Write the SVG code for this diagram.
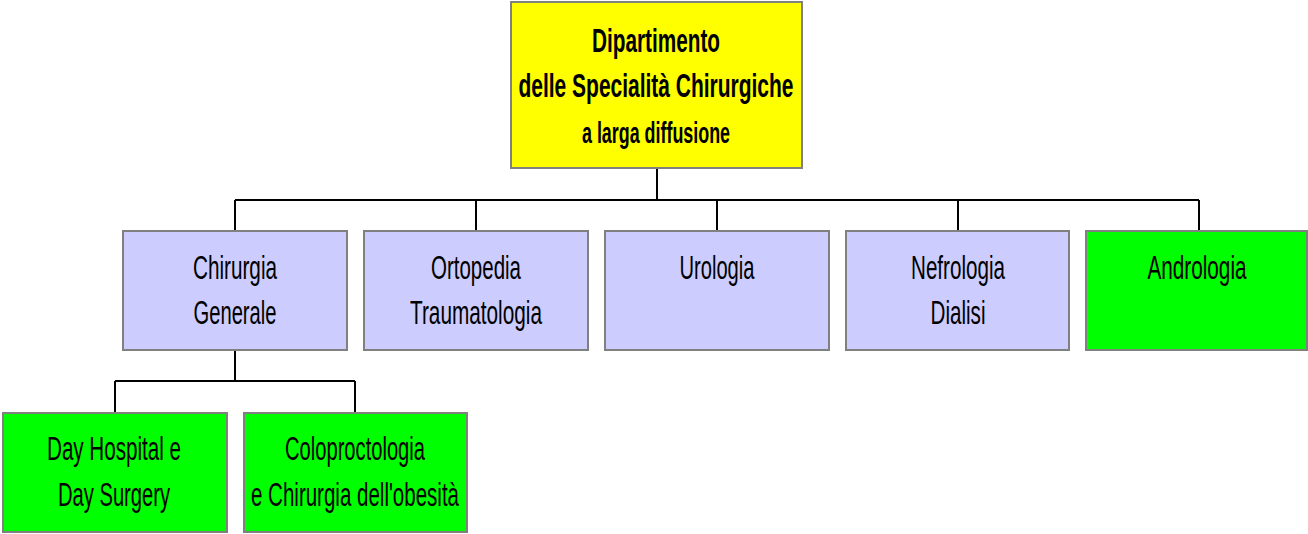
<svg xmlns="http://www.w3.org/2000/svg" width="1308" height="534" viewBox="0 0 1308 534">
<style>
.box{stroke:#808080;stroke-width:2}
.y{fill:#FFFF00}
.b{fill:#CCCCFF}
.g{fill:#00FF00}
text{font-family:"Liberation Sans",Arial,sans-serif;fill:#000;text-anchor:middle}
.t{font-size:34px}
.h{font-size:34px;font-weight:bold}
.s{font-size:30px;font-weight:bold}
.c{stroke:#000;stroke-width:2;fill:none}
</style>
<rect width="1308" height="534" fill="#fff"/>
<g id="connectors">
<path class="c" d="M657 168V200M235 200H1199M235 200V231M476 200V231M717 200V231M958 200V231M1199 200V231"/>
<path class="c" d="M235 350V381M115 381H355M115 381V413M355 381V413"/>
</g>
<g id="dipartimento">
<rect class="box y" x="511" y="2" width="291" height="166"/>
<text class="h" x="656" y="52" textLength="128" lengthAdjust="spacingAndGlyphs">Dipartimento</text>
<text class="h" x="656" y="97" textLength="275" lengthAdjust="spacingAndGlyphs">delle Specialità Chirurgiche</text>
<text class="s" x="656" y="143" textLength="148" lengthAdjust="spacingAndGlyphs">a larga diffusione</text>
</g>
<g id="chirurgia">
<rect class="box b" x="123" y="231" width="224" height="119"/>
<text class="t" x="235" y="279" textLength="84" lengthAdjust="spacingAndGlyphs">Chirurgia</text>
<text class="t" x="235" y="324" textLength="83" lengthAdjust="spacingAndGlyphs">Generale</text>
</g>
<g id="ortopedia">
<rect class="box b" x="364" y="231" width="224" height="119"/>
<text class="t" x="476" y="279" textLength="90" lengthAdjust="spacingAndGlyphs">Ortopedia</text>
<text class="t" x="476" y="324" textLength="132" lengthAdjust="spacingAndGlyphs">Traumatologia</text>
</g>
<g id="urologia">
<rect class="box b" x="605" y="231" width="224" height="119"/>
<text class="t" x="717" y="279" textLength="75" lengthAdjust="spacingAndGlyphs">Urologia</text>
</g>
<g id="nefrologia">
<rect class="box b" x="846" y="231" width="223" height="119"/>
<text class="t" x="958" y="279" textLength="94" lengthAdjust="spacingAndGlyphs">Nefrologia</text>
<text class="t" x="958" y="324" textLength="55" lengthAdjust="spacingAndGlyphs">Dialisi</text>
</g>
<g id="andrologia">
<rect class="box g" x="1086" y="231" width="221" height="119"/>
<text class="t" x="1197" y="279" textLength="99" lengthAdjust="spacingAndGlyphs">Andrologia</text>
</g>
<g id="dayhospital">
<rect class="box g" x="3" y="413" width="224" height="119"/>
<text class="t" x="114" y="460" textLength="134" lengthAdjust="spacingAndGlyphs">Day Hospital e</text>
<text class="t" x="114" y="506" textLength="112" lengthAdjust="spacingAndGlyphs">Day Surgery</text>
</g>
<g id="coloproctologia">
<rect class="box g" x="244" y="413" width="223" height="119"/>
<text class="t" x="355" y="460" textLength="140" lengthAdjust="spacingAndGlyphs">Coloproctologia</text>
<text class="t" x="355" y="506" textLength="208" lengthAdjust="spacingAndGlyphs">e Chirurgia dell'obesità</text>
</g>
</svg>
